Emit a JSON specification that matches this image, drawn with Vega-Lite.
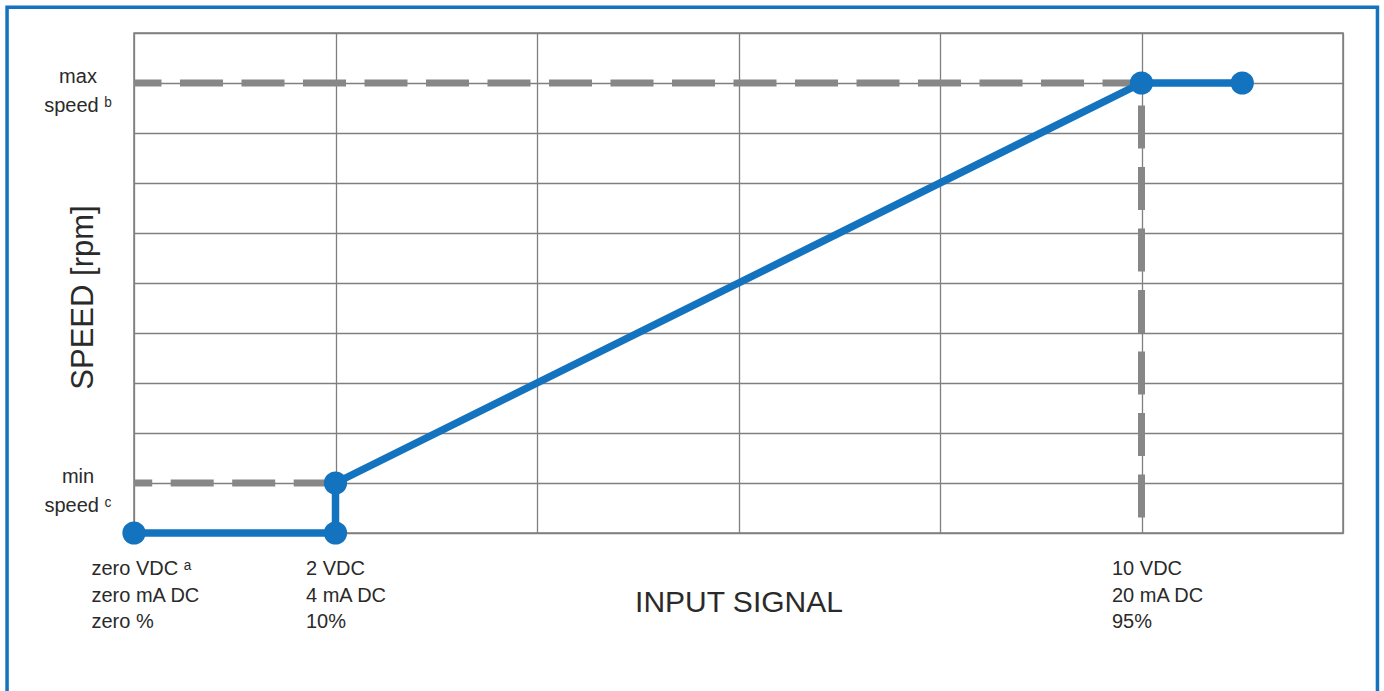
{
  "$schema": "https://vega.github.io/schema/vega-lite/v6.json",
  "width": 1209,
  "height": 500,
  "autosize": {"type": "none"},
  "padding": {"left": 134, "top": 33, "right": 41, "bottom": 158},
  "background": "white",
  "config": {
    "font": "Liberation Sans",
    "view": {"stroke": "#7f7f7f", "strokeWidth": 1.5}
  },
  "datasets": {
    "signal": [
      {"ord": 1, "x": 0, "y": 0},
      {"ord": 2, "x": 1, "y": 0},
      {"ord": 3, "x": 1, "y": 1},
      {"ord": 4, "x": 5, "y": 9},
      {"ord": 5, "x": 5.5, "y": 9}
    ],
    "guides": [
      {"seg": "max", "ord": 1, "x": 0, "y": 9},
      {"seg": "max", "ord": 2, "x": 5, "y": 9},
      {"seg": "max", "ord": 3, "x": 5, "y": 0},
      {"seg": "min", "ord": 1, "x": 0, "y": 1},
      {"seg": "min", "ord": 2, "x": 1, "y": 1}
    ],
    "xlabels": [
      {"grp": "zero", "x": 0, "y": 0, "label": "zero VDC ᵃ\nzero mA DC\nzero %"},
      {"grp": "other", "x": 1, "y": 0, "label": "2 VDC\n4 mA DC\n10%"},
      {"grp": "other", "x": 5, "y": 0, "label": "10 VDC\n20 mA DC\n95%"}
    ],
    "ylabels": [
      {"x": 0, "y": 9, "label": "max\nspeed ᵇ"},
      {"x": 0, "y": 1, "label": "min\nspeed ᶜ"}
    ],
    "frame": [
      {"x": -0.63, "x2": 6.171, "y": 10.515, "y2": -3.5}
    ]
  },
  "encoding": {
    "x": {
      "field": "x",
      "type": "quantitative",
      "scale": {"domain": [0, 6], "nice": false, "zero": false},
      "axis": {
        "values": [0, 1, 2, 3, 4, 5, 6],
        "grid": true,
        "gridColor": "#7f7f7f",
        "gridWidth": 1.3,
        "gridOpacity": 1,
        "labels": false,
        "ticks": false,
        "domain": false,
        "title": "INPUT SIGNAL",
        "titleFont": "Liberation Sans",
        "titleFontSize": 30,
        "titleFontWeight": "normal",
        "titleColor": "#2a2a2a",
        "titleBaseline": "alphabetic",
        "titleAlign": "center",
        "titleAnchor": "middle",
        "titleY": 78
      }
    },
    "y": {
      "field": "y",
      "type": "quantitative",
      "scale": {"domain": [0, 10], "nice": false, "zero": false},
      "axis": {
        "values": [0, 1, 2, 3, 4, 5, 6, 7, 8, 9, 10],
        "grid": true,
        "gridColor": "#7f7f7f",
        "gridWidth": 1.3,
        "gridOpacity": 1,
        "labels": false,
        "ticks": false,
        "domain": false,
        "title": "SPEED [rpm]",
        "titleFont": "Liberation Sans",
        "titleFontSize": 31,
        "titleFontWeight": "normal",
        "titleColor": "#2a2a2a",
        "titleAngle": -90,
        "titleBaseline": "alphabetic",
        "titleAlign": "center",
        "titleX": -42,
        "titleY": 264
      }
    }
  },
  "layer": [
    {
      "data": {"name": "frame"},
      "mark": {"type": "rect", "filled": false, "fill": null, "stroke": "#1473be", "strokeWidth": 3.5, "clip": false},
      "encoding": {
        "x2": {"field": "x2"},
        "y2": {"field": "y2"}
      }
    },
    {
      "data": {"name": "guides"},
      "transform": [{"filter": "datum.seg === 'max'"}],
      "mark": {"type": "line", "color": "#878787", "strokeWidth": 7, "strokeDash": [43, 18.5], "strokeDashOffset": 15.5, "strokeCap": "butt"},
      "encoding": {"order": {"field": "ord", "type": "quantitative"}}
    },
    {
      "data": {"name": "guides"},
      "transform": [{"filter": "datum.seg === 'min'"}],
      "mark": {"type": "line", "color": "#878787", "strokeWidth": 7, "strokeDash": [43, 18.5], "strokeDashOffset": 24.8, "strokeCap": "butt"},
      "encoding": {"order": {"field": "ord", "type": "quantitative"}}
    },
    {
      "data": {"name": "signal"},
      "mark": {"type": "line", "color": "#1473be", "strokeWidth": 7.5, "strokeJoin": "round"},
      "encoding": {"order": {"field": "ord", "type": "quantitative"}}
    },
    {
      "data": {"name": "signal"},
      "mark": {"type": "circle", "color": "#1473be", "opacity": 1, "size": 540},
      "encoding": {}
    },
    {
      "data": {"name": "xlabels"},
      "transform": [{"filter": "datum.grp === 'zero'"}],
      "mark": {"type": "text", "align": "left", "baseline": "alphabetic", "dx": -42.5, "dy": 42, "lineBreak": "\n", "lineHeight": 26.5, "fontSize": 20, "fill": "#2a2a2a", "font": "Liberation Sans"},
      "encoding": {
        "text": {"field": "label", "type": "nominal"}
      }
    },
    {
      "data": {"name": "xlabels"},
      "transform": [{"filter": "datum.grp === 'other'"}],
      "mark": {"type": "text", "align": "left", "baseline": "alphabetic", "dx": -29.5, "dy": 42, "lineBreak": "\n", "lineHeight": 26.5, "fontSize": 20, "fill": "#2a2a2a", "font": "Liberation Sans"},
      "encoding": {
        "text": {"field": "label", "type": "nominal"}
      }
    },
    {
      "data": {"name": "ylabels"},
      "mark": {"type": "text", "align": "center", "baseline": "alphabetic", "dx": -56, "dy": 0, "lineBreak": "\n", "lineHeight": 28.5, "fontSize": 20, "fill": "#2a2a2a", "font": "Liberation Sans"},
      "encoding": {
        "text": {"field": "label", "type": "nominal"}
      }
    }
  ]
}
